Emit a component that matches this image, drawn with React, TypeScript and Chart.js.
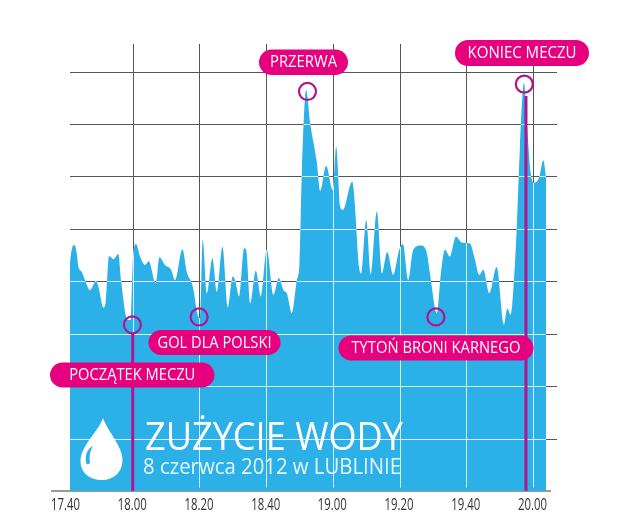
import React, { useEffect, useRef } from "react";
import { Chart, registerables } from "chart.js";

Chart.register(...registerables);

// minutes after 17:40
const minutes = [1.2,1.7,2.5,3.2,3.7,4.7,5.7,7.2,9.0,9.7,11.2,11.9,12.9,14.2,15.7,16.5,18.4,19.4,20.0,21.0,22.2,23.7,24.8,26.9,28.0,29.7,31.5,32.7,34.9,36.2,38.0,39.7,40.2,41.0,42.2,43.9,45.2,46.9,48.5,50.0,50.7,51.9,53.4,54.0,55.2,56.9,58.4,60.2,62.2,63.8,65.2,66.2,67.7,69.2,70.0,70.7,72.0,73.2,75.2,76.2,78.0,80.0,81.0,82.2,83.0,85.8,87.9,88.5,90.0,91.4,93.2,94.7,96.3,98.1,99.9,101.0,102.6,104.1,106.4,108.2,109.1,111.2,112.4,113.6,115.1,116.9,118.7,121.1,122.6,123.9,125.1,126.9,129.1,131.3,132.3,133.3,134.6,135.1,136.1,137.3,138.3,139.3,140.3,141.9,143.1,143.9];
const water = [4.37,4.60,4.69,4.54,4.28,4.18,4.02,3.83,4.01,3.90,3.50,3.61,4.48,4.42,4.52,4.02,3.27,3.26,4.35,4.71,4.47,4.31,4.38,3.96,4.46,4.31,4.22,4.02,4.61,4.18,3.90,3.32,3.30,4.79,3.77,4.44,3.80,4.66,3.50,4.09,4.02,3.71,4.63,4.60,3.58,4.20,3.71,4.60,3.74,4.06,3.83,3.77,3.39,4.02,4.35,6.07,7.65,7.02,6.26,5.72,6.20,5.74,6.57,5.42,5.36,5.90,4.25,4.15,5.17,4.12,5.33,4.15,4.56,4.12,4.60,4.71,4.02,4.60,4.68,4.53,4.15,3.39,4.15,4.60,4.47,4.85,4.74,4.72,4.41,4.12,4.22,3.77,4.27,3.17,3.48,3.36,4.34,4.98,6.57,7.78,6.89,6.07,5.88,5.99,6.31,5.99];

const timeTicks = [0, 20, 40, 60, 80, 100, 120, 140];
const timeLabels = ["17.40", "18.00", "18.20", "18.40", "19.00", "19.20", "19.40", "20.00"];
const gridTimes = [20, 40, 60, 80, 100, 120, 140];
const gridLevels = [1, 2, 3, 4, 5, 6, 7, 8];

const eventNames = ["POCZĄTEK MECZU", "GOL DLA POLSKI", "PRZERWA", "TYTOŃ BRONI KARNEGO", "KONIEC MECZU"];
const eventTimes = [19.9, 39.9, 72.4, 110.9, 137.4];
const eventValues = [3.17, 3.32, 7.62, 3.32, 7.76];
const markerTimes = [20.0, 137.9];

const title = "ZUŻYCIE WODY";
const subtitle = "8 czerwca 2012 w LUBLINIE";

// pill boxes: left, top, right, bottom, text width
const pills = [
  [50, 362.5, 214.5, 387.5, 126],
  [148.5, 330, 280.5, 355, 114],
  [259, 49.5, 348, 75, 67],
  [338.5, 335.5, 533.5, 360.5, 169],
  [455, 40, 589, 66, 109],
];

const BLUE = "#2bb0e8";
const PINK = "#e6007e";
const PURPLE = "#b0148f";

const art = {
  id: "art",
  beforeDatasetsDraw(chart: any) {
    const { ctx, scales: { x, y } } = chart;
    ctx.save();
    ctx.strokeStyle = "#555555";
    ctx.lineWidth = 1;
    ctx.beginPath();
    gridLevels.forEach((v) => {
      const p = Math.round(y.getPixelForValue(v)) + 0.5;
      ctx.moveTo(70, p);
      ctx.lineTo(557, p);
    });
    gridTimes.forEach((t) => {
      const p = Math.round(x.getPixelForValue(t)) + 0.5;
      ctx.moveTo(p, 44);
      ctx.lineTo(p, 491);
    });
    ctx.stroke();
    ctx.strokeStyle = "#777";
    ctx.lineWidth = 1.5;
    ctx.beginPath();
    ctx.moveTo(51, 491);
    ctx.lineTo(551, 491);
    ctx.stroke();
    ctx.restore();
  },
  beforeDatasetDraw(chart: any, args: any) {
    if (args.index !== 0) return;
    const { ctx } = chart;
    ctx.save();
    ctx.beginPath();
    ctx.roundRect(70, 30, 476.5, 457.5, 6);
    ctx.clip();
  },
  afterDatasetDraw(chart: any, args: any) {
    if (args.index !== 0) return;
    const { ctx, scales: { x, y } } = chart;
    const meta = chart.getDatasetMeta(0);
    const pts = meta.data;
    ctx.beginPath();
    meta.dataset.path(ctx);
    ctx.lineTo(pts[pts.length - 1].x, 491);
    ctx.lineTo(pts[0].x, 491);
    ctx.closePath();
    ctx.clip();
    ctx.strokeStyle = "rgba(255,255,255,0.8)";
    ctx.lineWidth = 1;
    ctx.beginPath();
    gridLevels.forEach((v) => {
      const p = Math.round(y.getPixelForValue(v)) + 0.5;
      ctx.moveTo(70, p);
      ctx.lineTo(557, p);
    });
    gridTimes.forEach((t) => {
      const p = Math.round(x.getPixelForValue(t)) + 0.5;
      ctx.moveTo(p, 44);
      ctx.lineTo(p, 491);
    });
    ctx.stroke();
    ctx.restore();

    // title block
    ctx.save();
    ctx.fillStyle = "#ffffff";
    ctx.textAlign = "left";
    ctx.textBaseline = "alphabetic";
    ctx.font = "400 39px 'Open Sans', sans-serif";
    ctx.fillText(title, 145, 449.5, 258);
    ctx.fillStyle = "#e8f6fd";
    ctx.font = "400 22px 'Open Sans', sans-serif";
    ctx.fillText(subtitle, 143, 474, 258);
    // drop icon
    ctx.fillStyle = "#ffffff";
    ctx.beginPath();
    ctx.moveTo(103, 418);
    ctx.bezierCurveTo(98, 432, 80.5, 446, 80.5, 461);
    ctx.bezierCurveTo(80.5, 473, 90, 480, 102, 480);
    ctx.bezierCurveTo(114, 480, 122.5, 472, 122.5, 460);
    ctx.bezierCurveTo(122.5, 446, 108, 432, 103, 418);
    ctx.fill();
    ctx.fillStyle = BLUE;
    ctx.beginPath();
    ctx.moveTo(93, 446);
    ctx.bezierCurveTo(88, 448, 84, 455, 86.5, 464);
    ctx.bezierCurveTo(88, 464.5, 89.5, 464, 90, 463);
    ctx.bezierCurveTo(89, 456, 90, 451, 93, 446);
    ctx.fill();
    ctx.restore();

    // marker lines
    ctx.save();
    ctx.strokeStyle = PURPLE;
    ctx.lineWidth = 3;
    ctx.beginPath();
    const p0 = x.getPixelForValue(markerTimes[0]);
    const p1 = x.getPixelForValue(markerTimes[1]);
    ctx.moveTo(p0, y.getPixelForValue(eventValues[0]) + 9);
    ctx.lineTo(p0, 491);
    ctx.moveTo(p1, y.getPixelForValue(eventValues[4]) + 12);
    ctx.lineTo(p1, 491);
    ctx.stroke();
    ctx.restore();
  },
  afterDatasetsDraw(chart: any) {
    const { ctx, scales: { x } } = chart;
    ctx.save();
    eventNames.forEach((name, i) => {
      const [l, t, r, b, w] = pills[i];
      ctx.fillStyle = PINK;
      ctx.beginPath();
      ctx.roundRect(l, t, r - l, b - t, (b - t) / 2);
      ctx.fill();
      ctx.fillStyle = "#ffffff";
      ctx.font = "400 16px 'Open Sans', sans-serif";
      ctx.textAlign = "center";
      ctx.textBaseline = "middle";
      ctx.fillText(name, (l + r) / 2, (t + b) / 2 + 0.5, w);
    });
    // tick labels, condensed to the narrow face of the original
    ctx.fillStyle = "#333333";
    ctx.font = "400 17px 'Open Sans', sans-serif";
    ctx.textAlign = "center";
    ctx.textBaseline = "middle";
    timeTicks.forEach((t, i) => {
      ctx.fillText(timeLabels[i], x.getPixelForValue(t) - 0.5, 505, 29);
    });
    ctx.restore();
  },
};

export default function App() {
  const ref = useRef<HTMLCanvasElement>(null);
  useEffect(() => {
    document.body.style.margin = "0";
    document.body.style.background = "#ffffff";
    const chart = new Chart(ref.current as HTMLCanvasElement, {
      type: "line",
      data: {
        datasets: [
          {
            label: "Zużycie wody",
            data: minutes.map((m, i) => ({ x: m, y: water[i] })),
            backgroundColor: BLUE,
            borderWidth: 0,
            pointRadius: 0,
            cubicInterpolationMode: "monotone",
            fill: "origin",
            order: 2,
          },
          {
            label: "Zdarzenia",
            data: eventTimes.map((m, i) => ({ x: m, y: eventValues[i] })),
            showLine: false,
            pointRadius: 8.5,
            pointBorderWidth: 2.2,
            pointBorderColor: PURPLE,
            pointBackgroundColor: "rgba(0,0,0,0)",
            order: 1,
          },
        ],
      },
      options: {
        responsive: false,
        animation: false,
        events: [],
        layout: { padding: { left: 51, right: 83, top: 44, bottom: 0 } },
        plugins: { legend: { display: false }, tooltip: { enabled: false } },
        scales: {
          x: {
            type: "linear",
            min: -4.5,
            max: 147.2,
            grid: { display: false },
            border: { display: false },
            afterBuildTicks: (s: any) => {
              s.ticks = timeTicks.map((value) => ({ value }));
            },
            afterFit: (s: any) => {
              s.height = 38;
            },
            ticks: { display: false },
          },
          y: {
            display: false,
            min: 0,
            max: 8.525,
          },
        },
      },
      plugins: [art],
    } as any);
    return () => chart.destroy();
  }, []);
  return <canvas ref={ref} width={640} height={529} style={{ display: "block" }} />;
}
